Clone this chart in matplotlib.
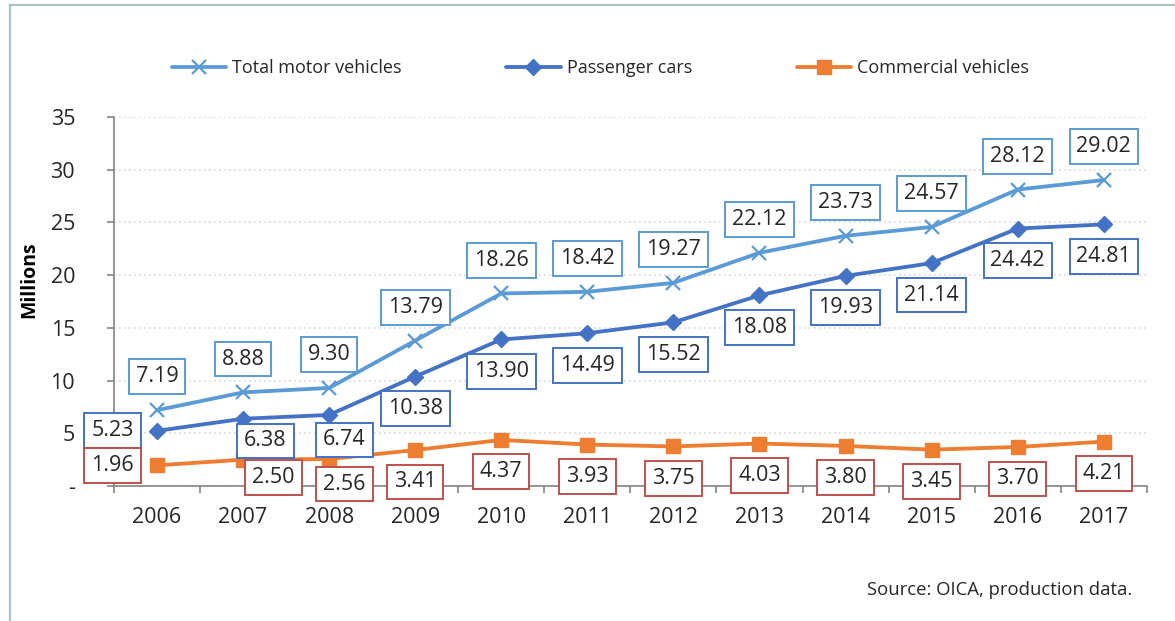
import matplotlib.pyplot as plt
from matplotlib.lines import Line2D

# Production data (millions)
years = ['2006', '2007', '2008', '2009', '2010', '2011',
         '2012', '2013', '2014', '2015', '2016', '2017']
total_vehicles = [7.19, 8.88, 9.30, 13.79, 18.26, 18.42,
                  19.27, 22.12, 23.73, 24.57, 28.12, 29.02]
passenger_cars = [5.23, 6.38, 6.74, 10.38, 13.90, 14.49,
                  15.52, 18.08, 19.93, 21.14, 24.42, 24.81]
commercial_vehicles = [1.96, 2.50, 2.56, 3.41, 4.37, 3.93,
                       3.75, 4.03, 3.80, 3.45, 3.70, 4.21]
y_ticks = [0, 5, 10, 15, 20, 25, 30, 35]
y_tick_labels = ['-', '5', '10', '15', '20', '25', '30', '35']

plt.rcParams['font.family'] = ['Open Sans', 'DejaVu Sans']
TEXT = '#262626'

fig = plt.figure(figsize=(11.75, 6.21), dpi=100)
ax = fig.add_axes([0.097, 0.2174, 0.879, 0.5942])

x = list(range(len(years)))

series = [
    ('Total motor vehicles', total_vehicles, '#5B9BD5', 'x', 10, '#5B9BD5'),
    ('Passenger cars', passenger_cars, '#4472C4', 'D', 8.5, '#4472C4'),
    ('Commercial vehicles', commercial_vehicles, '#ED7D31', 's', 10, '#C0504D'),
]

# label offsets in points (dx, dy); default above for total, below for others
default_off = {'Total motor vehicles': (0, 24),
               'Passenger cars': (0, -23),
               'Commercial vehicles': (0, -23)}
special_off = {
    ('Passenger cars', 0): (-32, 0),
    ('Passenger cars', 1): (16, -16),
    ('Passenger cars', 2): (11, -18),
    ('Commercial vehicles', 0): (-32, 0),
    ('Commercial vehicles', 1): (22, -13),
    ('Commercial vehicles', 2): (11, -18),
}

for name, vals, color, marker, ms, edge in series:
    ax.plot(x, vals, color=color, lw=2.75, marker=marker, markersize=ms,
            markeredgewidth=1.6 if marker == 'x' else 1, label=name,
            solid_capstyle='round', zorder=3)
    for i, v in enumerate(vals):
        dx, dy = special_off.get((name, i), default_off[name])
        ax.annotate(f'{v:.2f}', (i, v), xytext=(dx, dy), textcoords='offset points',
                    ha='center', va='center', fontsize=15.5, color=TEXT, zorder=5,
                    bbox=dict(boxstyle='square,pad=0.32', fc='white', ec=edge, lw=1.4))

ax.set_xlim(-0.5, len(years) - 0.5)
ax.set_ylim(0, 35)
ax.set_yticks(y_ticks)
ax.set_yticklabels(y_tick_labels)
ax.set_xticks(x)
ax.set_xticklabels(years)
ax.set_xticks([i - 0.5 for i in range(len(years) + 1)], minor=True)

ax.tick_params(axis='x', which='major', length=0, pad=15, labelsize=15.5, labelcolor=TEXT)
ax.tick_params(axis='x', which='minor', length=5, width=1.25, color='#898989', direction='out')
ax.tick_params(axis='y', length=5, width=1.25, color='#898989', pad=23,
               labelsize=15.5, labelcolor=TEXT)

ax.grid(axis='y', color='#D9D9D9', lw=1.2, ls=(0, (1, 2)), zorder=0)
for s in ['top', 'right']:
    ax.spines[s].set_visible(False)
for s in ['left', 'bottom']:
    ax.spines[s].set_color('#898989')
    ax.spines[s].set_linewidth(1.25)

ax.set_ylabel('Millions', fontsize=14, fontweight='bold', color='black')
ax.yaxis.set_label_coords(-0.072, 0.56)

fig.legend(loc='center', bbox_to_anchor=(0.511, 0.89), ncol=3, frameon=False,
           fontsize=13, handlelength=3.0, handletextpad=0.35, columnspacing=5.8,
           labelcolor=TEXT)

fig.text(0.964, 0.05, 'Source: OICA, production data.', ha='right', va='center',
         fontsize=13.3, color=TEXT)

# chart frame (left and top edges visible)
fig.add_artist(Line2D([9.5 / 1175, 9.5 / 1175], [0, 1 - 5 / 621],
                      transform=fig.transFigure, color='#A9C3C3', lw=1.6))
fig.add_artist(Line2D([9.5 / 1175, 1], [1 - 5 / 621, 1 - 5 / 621],
                      transform=fig.transFigure, color='#A9C3C3', lw=1.6))

fig.savefig('out.png', dpi=100)
